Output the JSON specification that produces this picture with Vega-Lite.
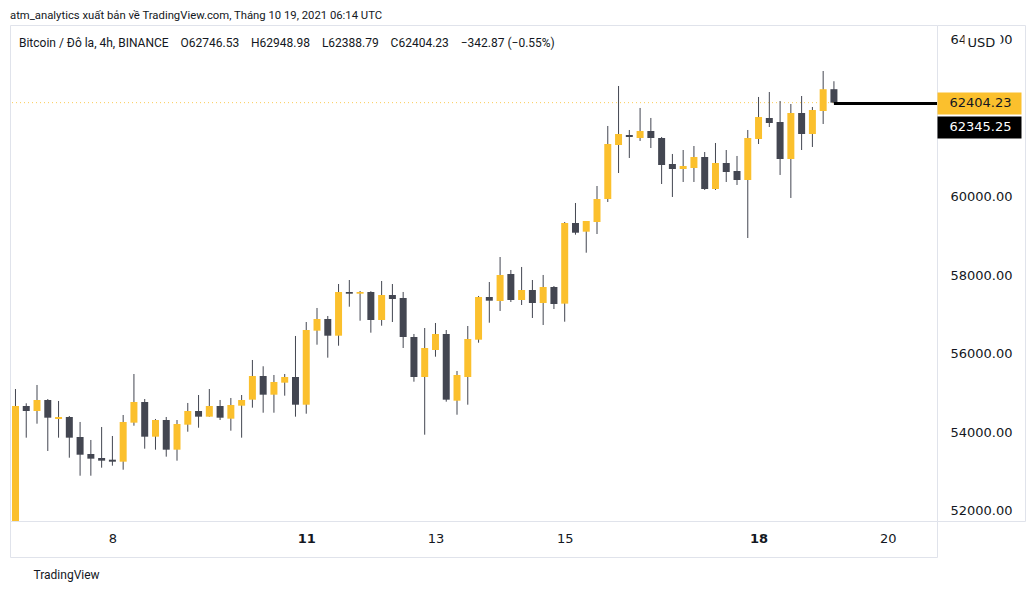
{
  "$schema": "https://vega.github.io/schema/vega-lite/v6.json",
  "autosize": "none",
  "width": 927,
  "height": 496,
  "padding": {"left": 10, "top": 25, "right": 98, "bottom": 71},
  "background": "white",
  "config": {
    "view": {"stroke": "#E0E3EB"},
    "font": "DejaVu Sans",
    "scale": {"continuousPadding": 0},
    "axis": {"labelFont": "DejaVu Sans", "labelFontSize": 13, "labelColor": "#131722", "grid": false, "domain": false}
  },
  "title": {
    "text": "atm_analytics xuất bản về TradingView.com, Tháng 10 19, 2021 06:14 UTC",
    "subtitle": "\u200b\u00a0\u00a0\u00a0Bitcoin / Đô la, 4h, BINANCE\u00a0\u00a0\u00a0\u00a0O62746.53\u00a0\u00a0\u00a0\u00a0H62948.98\u00a0\u00a0\u00a0\u00a0L62388.79\u00a0\u00a0\u00a0\u00a0C62404.23\u00a0\u00a0\u00a0\u00a0−342.87 (−0.55%)",
    "anchor": "start",
    "frame": "group",
    "font": "Roboto",
    "fontSize": 11.3,
    "fontWeight": "normal",
    "color": "#131722",
    "subtitleFont": "Roboto",
    "subtitleFontSize": 12,
    "subtitleColor": "#131722",
    "subtitlePadding": 16,
    "offset": -24
  },
  "datasets": {
    "candles": [
      {"t": "2021-10-06T12:00:00Z", "o": 51500, "h": 55108, "l": 51300, "c": 54675},
      {"t": "2021-10-06T16:00:00Z", "o": 54675, "h": 54744, "l": 53868, "c": 54548},
      {"t": "2021-10-06T20:00:00Z", "o": 54548, "h": 55210, "l": 54224, "c": 54828},
      {"t": "2021-10-07T00:00:00Z", "o": 54828, "h": 54853, "l": 53529, "c": 54377},
      {"t": "2021-10-07T04:00:00Z", "o": 54344, "h": 54803, "l": 53868, "c": 54395},
      {"t": "2021-10-07T08:00:00Z", "o": 54395, "h": 54420, "l": 53358, "c": 53868},
      {"t": "2021-10-07T12:00:00Z", "o": 53885, "h": 54268, "l": 52899, "c": 53434},
      {"t": "2021-10-07T16:00:00Z", "o": 53452, "h": 53809, "l": 52899, "c": 53333},
      {"t": "2021-10-07T20:00:00Z", "o": 53350, "h": 54140, "l": 53103, "c": 53282},
      {"t": "2021-10-08T00:00:00Z", "o": 53307, "h": 53911, "l": 53154, "c": 53256},
      {"t": "2021-10-08T04:00:00Z", "o": 53256, "h": 54446, "l": 53052, "c": 54268},
      {"t": "2021-10-08T08:00:00Z", "o": 54250, "h": 55490, "l": 54173, "c": 54777},
      {"t": "2021-10-08T12:00:00Z", "o": 54777, "h": 54853, "l": 53587, "c": 53893},
      {"t": "2021-10-08T16:00:00Z", "o": 53893, "h": 54344, "l": 53562, "c": 54318},
      {"t": "2021-10-08T20:00:00Z", "o": 54318, "h": 54395, "l": 53384, "c": 53562},
      {"t": "2021-10-09T00:00:00Z", "o": 53562, "h": 54318, "l": 53282, "c": 54217},
      {"t": "2021-10-09T04:00:00Z", "o": 54199, "h": 54752, "l": 54020, "c": 54548},
      {"t": "2021-10-09T08:00:00Z", "o": 54548, "h": 54955, "l": 54122, "c": 54403},
      {"t": "2021-10-09T12:00:00Z", "o": 54403, "h": 55108, "l": 54403, "c": 54675},
      {"t": "2021-10-09T16:00:00Z", "o": 54675, "h": 54828, "l": 54318, "c": 54377},
      {"t": "2021-10-09T20:00:00Z", "o": 54352, "h": 54879, "l": 54046, "c": 54701},
      {"t": "2021-10-10T00:00:00Z", "o": 54683, "h": 54955, "l": 53868, "c": 54828},
      {"t": "2021-10-10T04:00:00Z", "o": 54836, "h": 55847, "l": 54632, "c": 55439},
      {"t": "2021-10-10T08:00:00Z", "o": 55439, "h": 55687, "l": 54504, "c": 54963},
      {"t": "2021-10-10T12:00:00Z", "o": 54963, "h": 55465, "l": 54504, "c": 55287},
      {"t": "2021-10-10T16:00:00Z", "o": 55269, "h": 55490, "l": 54938, "c": 55414},
      {"t": "2021-10-10T20:00:00Z", "o": 55414, "h": 56459, "l": 54403, "c": 54708},
      {"t": "2021-10-11T00:00:00Z", "o": 54708, "h": 56815, "l": 54479, "c": 56611},
      {"t": "2021-10-11T04:00:00Z", "o": 56594, "h": 57172, "l": 56237, "c": 56892},
      {"t": "2021-10-11T08:00:00Z", "o": 56892, "h": 56968, "l": 55906, "c": 56466},
      {"t": "2021-10-11T12:00:00Z", "o": 56466, "h": 57783, "l": 56211, "c": 57580},
      {"t": "2021-10-11T16:00:00Z", "o": 57580, "h": 57885, "l": 57205, "c": 57536},
      {"t": "2021-10-11T20:00:00Z", "o": 57536, "h": 57605, "l": 56848, "c": 57580},
      {"t": "2021-10-12T00:00:00Z", "o": 57580, "h": 57600, "l": 56543, "c": 56866},
      {"t": "2021-10-12T04:00:00Z", "o": 56866, "h": 57860, "l": 56721, "c": 57503},
      {"t": "2021-10-12T08:00:00Z", "o": 57503, "h": 57783, "l": 56815, "c": 57401},
      {"t": "2021-10-12T12:00:00Z", "o": 57427, "h": 57580, "l": 56153, "c": 56433},
      {"t": "2021-10-12T16:00:00Z", "o": 56433, "h": 56510, "l": 55294, "c": 55414},
      {"t": "2021-10-12T20:00:00Z", "o": 55414, "h": 56662, "l": 53944, "c": 56153},
      {"t": "2021-10-13T00:00:00Z", "o": 56102, "h": 56790, "l": 55931, "c": 56510},
      {"t": "2021-10-13T04:00:00Z", "o": 56510, "h": 56611, "l": 54785, "c": 54836},
      {"t": "2021-10-13T08:00:00Z", "o": 54810, "h": 55567, "l": 54453, "c": 55465},
      {"t": "2021-10-13T12:00:00Z", "o": 55414, "h": 56713, "l": 54708, "c": 56382},
      {"t": "2021-10-13T16:00:00Z", "o": 56364, "h": 57478, "l": 56288, "c": 57452},
      {"t": "2021-10-13T20:00:00Z", "o": 57452, "h": 57834, "l": 56797, "c": 57358},
      {"t": "2021-10-14T00:00:00Z", "o": 57350, "h": 58471, "l": 57096, "c": 58013},
      {"t": "2021-10-14T04:00:00Z", "o": 58038, "h": 58140, "l": 57325, "c": 57376},
      {"t": "2021-10-14T08:00:00Z", "o": 57376, "h": 58217, "l": 57248, "c": 57631},
      {"t": "2021-10-14T12:00:00Z", "o": 57631, "h": 57885, "l": 56917, "c": 57299},
      {"t": "2021-10-14T16:00:00Z", "o": 57299, "h": 58013, "l": 56739, "c": 57707},
      {"t": "2021-10-14T20:00:00Z", "o": 57707, "h": 57732, "l": 57146, "c": 57274},
      {"t": "2021-10-15T00:00:00Z", "o": 57282, "h": 59363, "l": 56823, "c": 59338},
      {"t": "2021-10-15T04:00:00Z", "o": 59338, "h": 59847, "l": 59040, "c": 59090},
      {"t": "2021-10-15T08:00:00Z", "o": 59116, "h": 59388, "l": 58581, "c": 59388},
      {"t": "2021-10-15T12:00:00Z", "o": 59363, "h": 60280, "l": 59057, "c": 59949},
      {"t": "2021-10-15T16:00:00Z", "o": 59949, "h": 61809, "l": 59873, "c": 61350},
      {"t": "2021-10-15T20:00:00Z", "o": 61325, "h": 62828, "l": 60611, "c": 61605},
      {"t": "2021-10-16T00:00:00Z", "o": 61580, "h": 61707, "l": 60994, "c": 61529},
      {"t": "2021-10-16T04:00:00Z", "o": 61503, "h": 62268, "l": 61427, "c": 61682},
      {"t": "2021-10-16T08:00:00Z", "o": 61682, "h": 62013, "l": 61248, "c": 61503},
      {"t": "2021-10-16T12:00:00Z", "o": 61503, "h": 61529, "l": 60331, "c": 60815},
      {"t": "2021-10-16T16:00:00Z", "o": 60841, "h": 61096, "l": 60000, "c": 60713},
      {"t": "2021-10-16T20:00:00Z", "o": 60713, "h": 61197, "l": 60382, "c": 60790},
      {"t": "2021-10-17T00:00:00Z", "o": 60739, "h": 61299, "l": 60382, "c": 61019},
      {"t": "2021-10-17T04:00:00Z", "o": 61019, "h": 61146, "l": 60178, "c": 60204},
      {"t": "2021-10-17T08:00:00Z", "o": 60204, "h": 61376, "l": 60178, "c": 60866},
      {"t": "2021-10-17T12:00:00Z", "o": 60866, "h": 61197, "l": 60382, "c": 60637},
      {"t": "2021-10-17T16:00:00Z", "o": 60662, "h": 61045, "l": 60306, "c": 60433},
      {"t": "2021-10-17T20:00:00Z", "o": 60433, "h": 61707, "l": 58955, "c": 61503},
      {"t": "2021-10-18T00:00:00Z", "o": 61478, "h": 62548, "l": 61350, "c": 62038},
      {"t": "2021-10-18T04:00:00Z", "o": 62013, "h": 62675, "l": 61783, "c": 61885},
      {"t": "2021-10-18T08:00:00Z", "o": 61911, "h": 62446, "l": 60561, "c": 60968},
      {"t": "2021-10-18T12:00:00Z", "o": 60968, "h": 62369, "l": 59975, "c": 62140},
      {"t": "2021-10-18T16:00:00Z", "o": 62140, "h": 62573, "l": 61197, "c": 61605},
      {"t": "2021-10-18T20:00:00Z", "o": 61605, "h": 62293, "l": 61274, "c": 62217},
      {"t": "2021-10-19T00:00:00Z", "o": 62191, "h": 63210, "l": 61860, "c": 62746},
      {"t": "2021-10-19T04:00:00Z", "o": 62746.53, "h": 62948.98, "l": 62388.79, "c": 62404.23}
    ]
  },
  "resolve": {"axis": {"x": "independent", "y": "independent"}},
  "layer": [
    {
      "data": {"values": [{"p": 62404.23}]},
      "mark": {"type": "rule", "color": "#FBC02D", "strokeDash": [1, 3], "strokeWidth": 1, "opacity": 0.8},
      "encoding": {
        "y": {
          "field": "p", "type": "quantitative",
          "axis": {
            "orient": "right", "values": [62404.23, 61790],
            "labelExpr": "datum.value > 62000 ? '62404.23' : '62345.25'",
            "ticks": true, "tickSize": 84, "tickWidth": 22,
            "tickColor": {"condition": {"test": "datum.value > 62000", "value": "#FBC02D"}, "value": "#000000"},
            "labelColor": {"condition": {"test": "datum.value > 62000", "value": "#131722"}, "value": "#FFFFFF"},
            "labelPadding": -72, "labelOverlap": false, "title": null
          }
        }
      }
    },
    {
      "data": {"name": "candles"},
      "mark": {"type": "rule", "color": "#434651", "strokeWidth": 1, "clip": true},
      "encoding": {
        "x": {
          "field": "t", "type": "temporal",
          "scale": {"type": "utc", "padding": 0, "domain": [
            {"year": 2021, "month": 10, "date": 6, "hours": 9, "minutes": 58, "utc": true},
            {"year": 2021, "month": 10, "date": 20, "hours": 18, "minutes": 17, "utc": true}
          ]},
          "axis": {
            "orient": "bottom",
            "values": [
              {"year": 2021, "month": 10, "date": 8, "utc": true},
              {"year": 2021, "month": 10, "date": 11, "utc": true},
              {"year": 2021, "month": 10, "date": 13, "utc": true},
              {"year": 2021, "month": 10, "date": 15, "utc": true},
              {"year": 2021, "month": 10, "date": 18, "utc": true},
              {"year": 2021, "month": 10, "date": 20, "utc": true}
            ],
            "labelExpr": "utcFormat(datum.value, '%-d')",
            "labelFontWeight": {"condition": {"test": "utcdate(datum.value) == 11 || utcdate(datum.value) == 18", "value": "bold"}, "value": "normal"},
            "ticks": false, "tickSize": 0, "labelPadding": 11,
            "title": "TradingView", "titleAnchor": "start", "titleFont": "Roboto", "titleFontSize": 12, "titleFontWeight": "normal", "titleColor": "#131722", "titlePadding": 24, "titleX": 23
          }
        },
        "y": {
          "field": "l", "type": "quantitative",
          "scale": {"domain": [51745, 64382], "nice": false, "zero": false},
          "axis": {"orient": "right", "values": [52000, 54000, 56000, 58000, 60000, 64000], "format": ".2f", "ticks": false, "tickSize": 0, "labelPadding": 13, "title": null}
        },
        "y2": {"field": "h"}
      }
    },
    {
      "data": {"name": "candles"},
      "mark": {"type": "bar", "width": 7, "clip": true},
      "encoding": {
        "x": {"field": "t", "type": "temporal", "axis": null},
        "y": {
          "field": "o", "type": "quantitative",
          "axis": {"orient": "right", "offset": 88, "domain": true, "domainColor": "#E0E3EB", "values": [51745, 64382], "ticks": true, "tickSize": -88, "tickColor": "#E0E3EB", "labels": false, "title": null}
        },
        "y2": {"field": "c"},
        "color": {"condition": {"test": "datum.c >= datum.o", "value": "#FBC02D"}, "value": "#434651"}
      }
    },
    {
      "data": {"values": [{"t": "2021-10-19T04:00:00Z", "t2": "2021-10-20T22:00:00Z", "p": 62380}]},
      "mark": {"type": "rule", "color": "#000000", "strokeWidth": 3, "clip": true},
      "encoding": {
        "x": {
          "field": "t", "type": "temporal",
          "axis": {
            "orient": "bottom", "offset": 36, "domain": true, "domainColor": "#E0E3EB",
            "values": [
              {"year": 2021, "month": 10, "date": 6, "hours": 9, "minutes": 58, "utc": true},
              {"year": 2021, "month": 10, "date": 20, "hours": 18, "minutes": 17, "utc": true}
            ],
            "ticks": true, "tickSize": -36, "tickColor": "#E0E3EB", "labels": false, "title": null
          }
        },
        "x2": {"field": "t2"},
        "y": {
          "field": "p", "type": "quantitative",
          "axis": {"orient": "right", "offset": 27, "values": [63924], "labelExpr": "'USD'", "ticks": true, "tickSize": 36, "tickWidth": 24, "tickColor": "#FFFFFF", "labelPadding": -33, "labelColor": "#131722", "title": null}
        }
      }
    }
  ]
}
